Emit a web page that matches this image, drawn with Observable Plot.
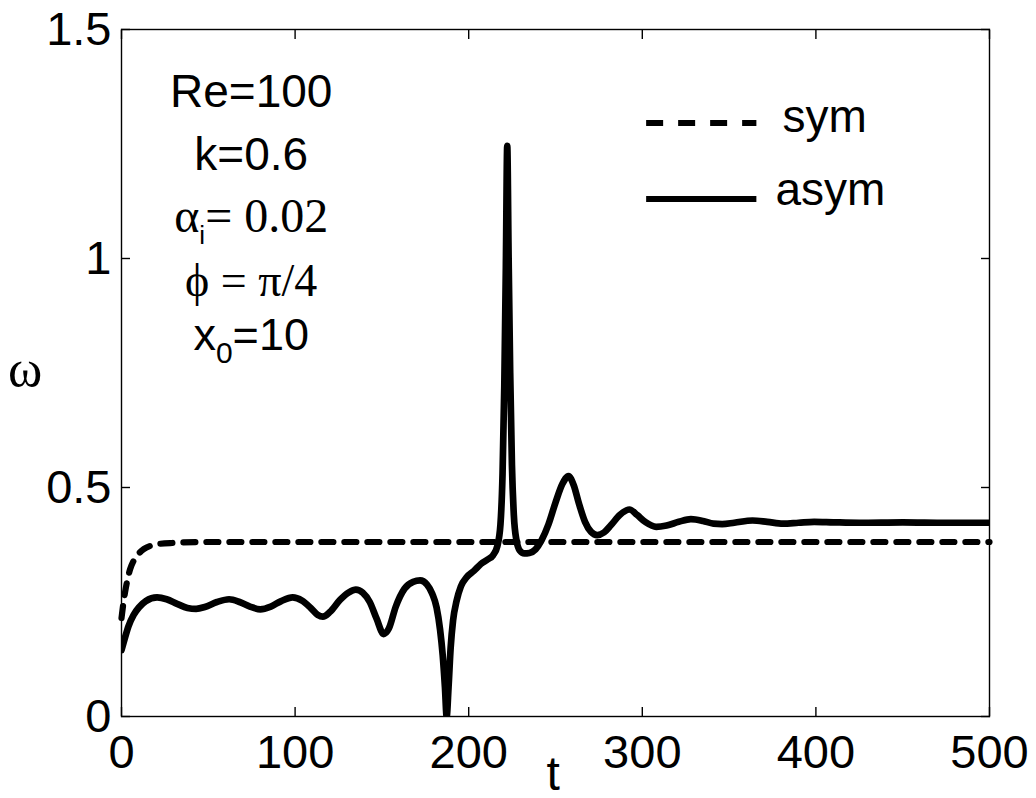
<!DOCTYPE html>
<html><head><meta charset="utf-8">
<script src="https://cdn.jsdelivr.net/npm/d3@7"></script>
<script src="https://cdn.jsdelivr.net/npm/@observablehq/plot@0.6"></script>
<style>body{margin:0;background:#fff}</style>
</head><body><div id="chart"></div>
<script>
// ---- data ----
const symT = [0, 1, 2, 3.5, 5, 7, 10, 13, 17, 22, 30, 50, 100, 200, 300, 400, 500];
const symW = [0.215, 0.245, 0.27, 0.3, 0.322, 0.34, 0.356, 0.366, 0.373, 0.377, 0.379, 0.381, 0.381, 0.381, 0.381, 0.381, 0.381];

const asymT = [0, 2, 4, 7, 10, 14, 20.5, 26, 32, 38, 43, 48, 55, 62, 68, 74, 80, 86, 92, 98.6,
  104, 109, 113, 116, 120, 126, 131, 135, 139, 143, 147, 151, 154, 158, 163, 168, 172, 176, 179, 181.5,
  183.5, 185, 186.3, 187.3, 188.4, 189.6, 191, 193, 195.5, 199, 203, 207, 211, 214, 216.5, 218.3, 219.5, 220.5, 221.4, 222.2,
  223, 223.9, 224.9, 226, 227.5, 229.5, 232, 235, 238.5, 242, 246, 250, 254, 257.5, 260.5, 263.5, 267, 270.5, 274, 278,
  282, 287, 292.6, 297, 302, 308, 314, 321, 328, 335, 341, 346, 353, 363.5, 372, 381, 390, 399, 410, 425, 450, 475, 500];
const asymW = [0.145, 0.172, 0.197, 0.222, 0.238, 0.252, 0.26, 0.256, 0.246, 0.237, 0.235, 0.239, 0.25, 0.256, 0.25, 0.24, 0.234, 0.24, 0.252, 0.26,
  0.253, 0.237, 0.222, 0.218, 0.228, 0.255, 0.271, 0.277, 0.27, 0.25, 0.213, 0.18, 0.192, 0.24, 0.279, 0.294, 0.297, 0.288, 0.268, 0.238,
  0.19, 0.135, 0.065, 0.0, 0.065, 0.15, 0.21, 0.252, 0.284, 0.305, 0.318, 0.333, 0.343, 0.352, 0.372, 0.42, 0.53, 0.72, 0.98, 1.246,
  1.0, 0.75, 0.55, 0.44, 0.385, 0.362, 0.356, 0.357, 0.365, 0.385, 0.42, 0.467, 0.508, 0.525, 0.505, 0.465, 0.425, 0.403, 0.396, 0.402,
  0.418, 0.44, 0.452, 0.44, 0.424, 0.414, 0.417, 0.425, 0.431, 0.427, 0.421, 0.42, 0.423, 0.428, 0.425, 0.421, 0.423, 0.425, 0.424, 0.423, 0.424, 0.423, 0.423];

const xTicks = [0, 100, 200, 300, 400, 500];
const xTickLabels = ["0", "100", "200", "300", "400", "500"];
const yTicks = [0, 0.5, 1, 1.5];
const yTickLabels = ["0", "0.5", "1", "1.5"];
const seriesNames = ["sym", "asym"];
const xLabel = "t";
const yLabel = "ω";

// ---- build ----
const sym = symT.map((t, i) => ({t, w: symW[i]}));
const asym = asymT.map((t, i) => ({t, w: asymW[i]}));
const SANS = "'Liberation Sans', Arial, Helvetica, sans-serif";
const SERIF = "'Liberation Serif', 'Times New Roman', Times, serif";

const plot = Plot.plot({
  width: 1036, height: 798,
  marginLeft: 121, marginRight: 47, marginTop: 29, marginBottom: 82,
  x: {domain: [0, 500]},
  y: {domain: [0, 1.5]},
  style: {fontFamily: SANS, background: "white", color: "black", overflow: "visible"},
  marks: [
    Plot.line(sym, {x: "t", y: "w", stroke: "black", strokeWidth: 6.2, strokeDasharray: "12,11", strokeLinecap: "round", curve: "monotone-x"}),
    Plot.line(asym, {x: "t", y: "w", stroke: "black", strokeWidth: 6.7, strokeLinejoin: "round", curve: "monotone-x", clip: true}),
    Plot.frame({stroke: "black", strokeWidth: 1.4}),
    Plot.axisX({ticks: xTicks, tickSize: -9, tickFormat: () => "", label: null, strokeWidth: 1.4}),
    Plot.axisX({anchor: "top", ticks: xTicks, tickSize: -9, tickFormat: () => "", label: null, strokeWidth: 1.4}),
    Plot.axisY({ticks: yTicks, tickSize: -9, tickFormat: () => "", label: null, strokeWidth: 1.4}),
    Plot.axisY({anchor: "right", ticks: yTicks, tickSize: -9, tickFormat: () => "", label: null, strokeWidth: 1.4}),
    Plot.axisX({ticks: xTicks, tickSize: 0, tickPadding: 18, fontSize: 47, label: null,
      tickFormat: d => xTickLabels[xTicks.indexOf(d)]}),
    Plot.axisY({ticks: yTicks, tickSize: 0, tickPadding: 10, fontSize: 47, label: null,
      tickFormat: d => yTickLabels[yTicks.indexOf(d)]})
  ]
});
document.getElementById("chart").appendChild(plot);

const svg = d3.select(plot);
const xs = plot.scale("x"), ys = plot.scale("y");
const X = v => xs.apply(v), Y = v => ys.apply(v);

function txt(x, y, fam, size, anchor) {
  return svg.append("text").attr("x", x).attr("y", y)
    .style("text-anchor", anchor).style("font-family", fam).style("font-size", size + "px").style("fill", "black");
}

// axis labels
txt(25, Y(0.72), SERIF, 52, "middle").text(yLabel);
txt(X(249), 790, SANS, 48, "middle").text(xLabel);

// annotations
const cx = X(75);
const base0 = Y(1.33);
const rows = [0, 63, 125, 189, 243];
txt(cx, base0 + rows[0], SANS, 46, "middle").text("Re=100");
txt(cx, base0 + rows[1], SANS, 46, "middle").text("k=0.6");
{
  const t = txt(cx, base0 + rows[2], SERIF, 48, "middle");
  t.append("tspan").text("α");
  t.append("tspan").style("font-family", SANS).style("font-size", "26px").attr("dy", 12).text("i");
  t.append("tspan").attr("dy", -12).text("= 0.02");
}
txt(cx, base0 + rows[3], SERIF, 46, "middle").text("ϕ = π/4");
{
  const t = txt(cx, base0 + rows[4], SANS, 45, "middle");
  t.append("tspan").text("x");
  t.append("tspan").style("font-size", "30px").attr("dy", 13).text("0");
  t.append("tspan").attr("dy", -13).text("=10");
}

// legend
const lx1 = X(302.5), lx2 = X(366);
svg.append("line").attr("x1", lx1).attr("x2", lx2).attr("y1", Y(1.295)).attr("y2", Y(1.295))
  .attr("stroke", "black").attr("stroke-width", 6).attr("stroke-dasharray", "17,15");
svg.append("line").attr("x1", lx1).attr("x2", lx2).attr("y1", Y(1.129)).attr("y2", Y(1.129))
  .attr("stroke", "black").attr("stroke-width", 6);
txt(X(381), Y(1.275), SANS, 46, "start").text(seriesNames[0]);
txt(X(377), Y(1.116), SANS, 46, "start").text(seriesNames[1]);
</script>
</body></html>
